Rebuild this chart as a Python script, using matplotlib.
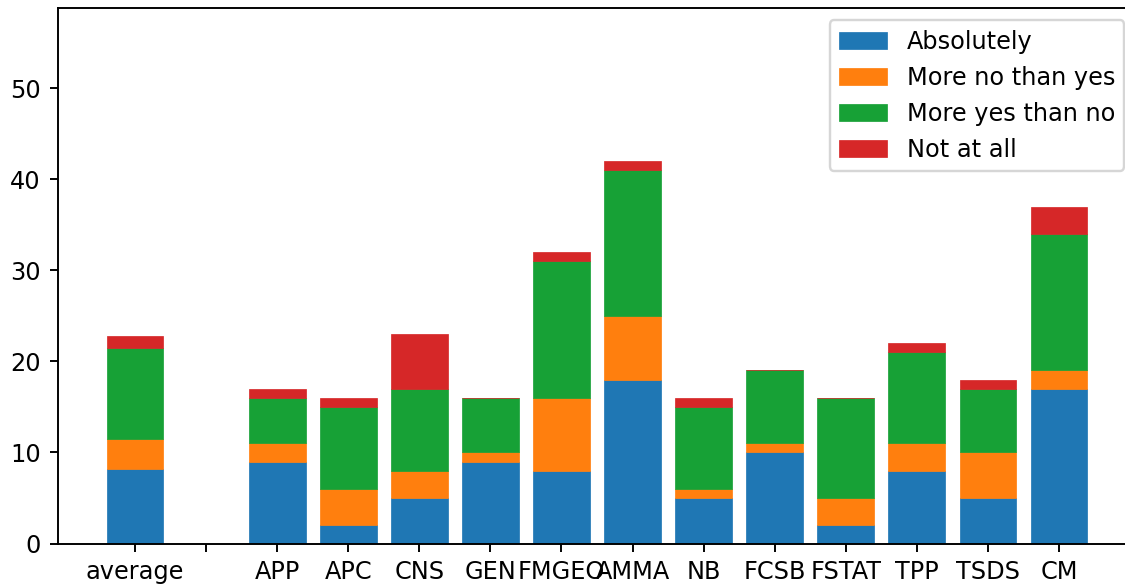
import numpy as np
import matplotlib
matplotlib.use("Agg")
import matplotlib.pyplot as plt

# categories (second one is an empty spacer column)
labels = ["average", "", "APP", "APC", "CNS", "GEN", "FMGEO", "AMMA",
          "NB", "FCSB", "FSTAT", "TPP", "TSDS", "CM"]

# answers per course
absolutely = [8.17, 0, 9, 2, 5, 9, 8, 18, 5, 10, 2, 8, 5, 17]
more_no = [3.33, 0, 2, 4, 3, 1, 8, 7, 1, 1, 3, 3, 5, 2]
more_yes = [10.0, 0, 5, 9, 9, 6, 15, 16, 9, 8, 11, 10, 7, 15]
not_at_all = [1.33, 0, 1, 1, 6, 0, 1, 1, 1, 0, 0, 1, 1, 3]

series = [("Absolutely", absolutely, "#1f77b4"),
          ("More no than yes", more_no, "#ff7f0e"),
          ("More yes than no", more_yes, "#17a136"),
          ("Not at all", not_at_all, "#d62728")]

dpi = 173
fig = plt.figure(figsize=(1125 / dpi, 586 / dpi), dpi=dpi)
# axes runs slightly past the right edge of the picture (cropped original)
ax = fig.add_axes([57.5 / 1125, 42.5 / 586, 1079 / 1125, 535.5 / 586])

x = np.arange(len(labels))
bottom = np.zeros(len(labels))
for name, vals, col in series:
    vals = np.array(vals, dtype=float)
    # thin edge so that zero-height segments still show as a hairline
    ax.bar(x, vals, bottom=bottom, label=name, color=col,
           edgecolor=col, linewidth=0.3)
    bottom += vals

ax.set_xticks(x)
ax.set_xticklabels(labels)
ax.set_ylim(0, bottom.max() * 1.4)
ax.legend(loc="upper right")

fig.savefig("out.png", dpi=dpi)
